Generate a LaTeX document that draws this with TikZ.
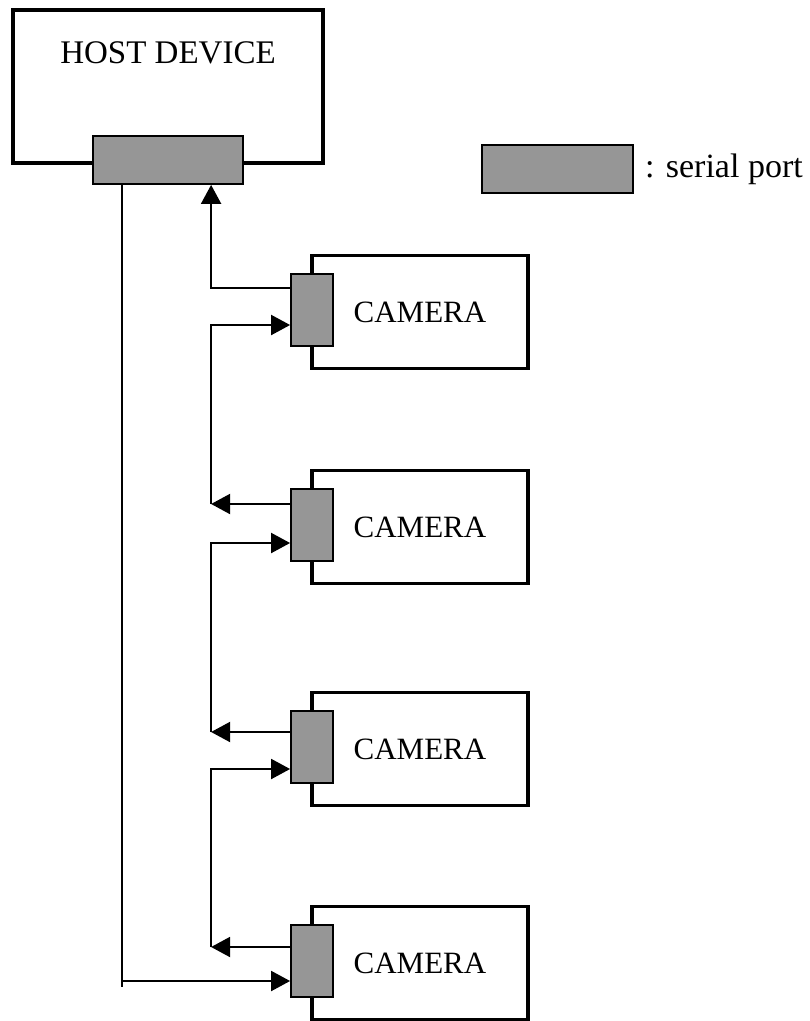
\documentclass[tikz,border=0pt]{standalone}
\usepackage{fontspec}
\setmainfont{Liberation Serif}
\usepackage{tikz}
\usetikzlibrary{calc}
\usetikzlibrary{positioning}
\usetikzlibrary{arrows.meta}

\definecolor{portgray}{RGB}{150,150,150}

\begin{document}
\begin{tikzpicture}[x=1pt,y=-1pt,
    box/.style={draw,line width=3.5pt,inner sep=0pt},
    port/.style={draw,line width=1.8pt,fill=portgray,inner sep=0pt},
    link/.style={line width=2pt},
    tip/.style={-{Triangle[length=19pt,width=20pt]}},
    every node/.style={font=\fontsize{31}{37}\selectfont}]
\useasboundingbox (0,0) rectangle (810,1021);
\def\jx{79}

\node[box,minimum width=310pt,minimum height=153pt] (host) at (168,86.5) {};
\node[font=\fontsize{33}{39}\selectfont] (hostlabel) at (168,53) {HOST DEVICE};
\node[port,minimum width=150pt,minimum height=48pt] (hostport) at (168,160) {};

\node[port,minimum width=151pt,minimum height=48pt] (legport) at (557.5,169) {};
\node[right=11pt of legport,inner sep=0pt,font=\fontsize{34}{40}\selectfont]
    (legtext) {: serial port};

\foreach \i/\y/\out/\in in {1/312/-22/15,2/527/-21/18,3/749/-15/22,4/963/-14/20}{
    \node[box,minimum width=216pt,minimum height=113pt] (cam\i) at (420,\y) {CAMERA};
    \node[port,minimum width=42pt,minimum height=72pt] (p\i) at (312,\y-2) {};
    \coordinate (o\i) at ($(p\i.west)+(0,\out)$);
    \coordinate (n\i) at ($(p\i.west)+(0,\in)$);
    \coordinate (j\i) at ($(o\i)+(-\jx,0)$);
}

\draw[link,tip] (o1) -- (j1) -- (j1 |- hostport.south);
\foreach \i [evaluate=\i as \h using {int(\i-1)}] in {2,3,4}{
    \draw[link,tip] (o\i) -- (j\i);
    \draw[link,tip] (j\i) |- (n\h);
}

\coordinate (busend) at ($(n4)+(-168,6)$);
\draw[link] (hostport.south -| busend) -- (busend);
\draw[link,tip] (n4 -| busend) -- (n4);
\end{tikzpicture}
\end{document}
